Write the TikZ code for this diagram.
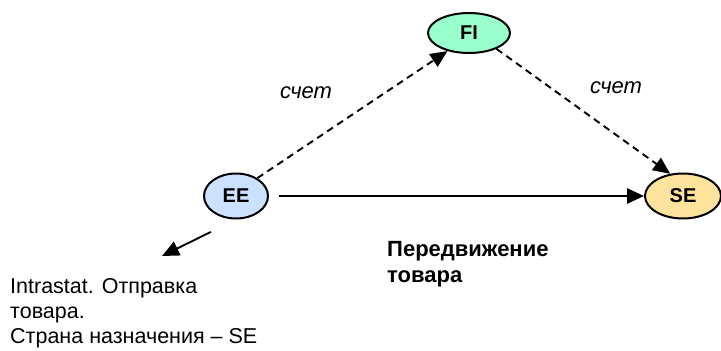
\documentclass[tikz,border=0pt]{standalone}
\usepackage{fontspec}
\setmainfont{Liberation Sans}
\usetikzlibrary{shapes.geometric,arrows.meta}
\definecolor{eeblue}{HTML}{CCE0FF}
\definecolor{fimint}{HTML}{99FFCC}
\definecolor{seorange}{HTML}{FFE29C}
\begin{document}
\begin{tikzpicture}[x=1pt,y=-1pt,
  land/.style={draw, ellipse, line width=2pt, inner sep=0pt, font=\fontsize{20}{22}\selectfont\bfseries},
  tip/.style={-{Triangle[length=17pt,width=15pt]}},
  money/.style={tip, dashed, dash pattern=on 7pt off 5pt, line width=1.9pt},
  goods/.style={tip, line width=2.8pt}]
\useasboundingbox (0,0) rectangle (721,351);
\node[land, fill=eeblue, minimum width=64pt, minimum height=45pt] (ee) at (236,196) {EE};
\node[land, fill=fimint, minimum width=82pt, minimum height=40pt] (fi) at (469,33) {FI};
\node[land, fill=seorange, minimum width=76pt, minimum height=45pt] (se) at (683,196) {SE};
\coordinate (intraTip) at (162,256);

\path[draw,money] (ee.40) -- (fi.220);
\path[draw,money] (fi.-30) -- (se.120);
\path[draw,goods,shorten <=10pt] (ee) -- (se);
\path[draw,tip,line width=1.9pt,shorten <=28pt] (ee.south) -- (intraTip);

\node[font=\fontsize{22}{24}\selectfont\itshape] (schetL) at (306,93) {счет};
\node[font=\fontsize{22}{24}\selectfont\itshape] (schetR) at (616,88) {счет};
\node[font=\fontsize{22}{26}\selectfont\bfseries, align=left, anchor=north west, inner sep=0pt] (move) at (387,241) {Передвижение\\товара};
\node[font=\fontsize{21.5}{25}\selectfont, align=left, anchor=north west, inner sep=0pt] (intra) at (10,278) {Intrastat. Отправка\\товара.\\Страна назначения -- SE};
\end{tikzpicture}
\end{document}
